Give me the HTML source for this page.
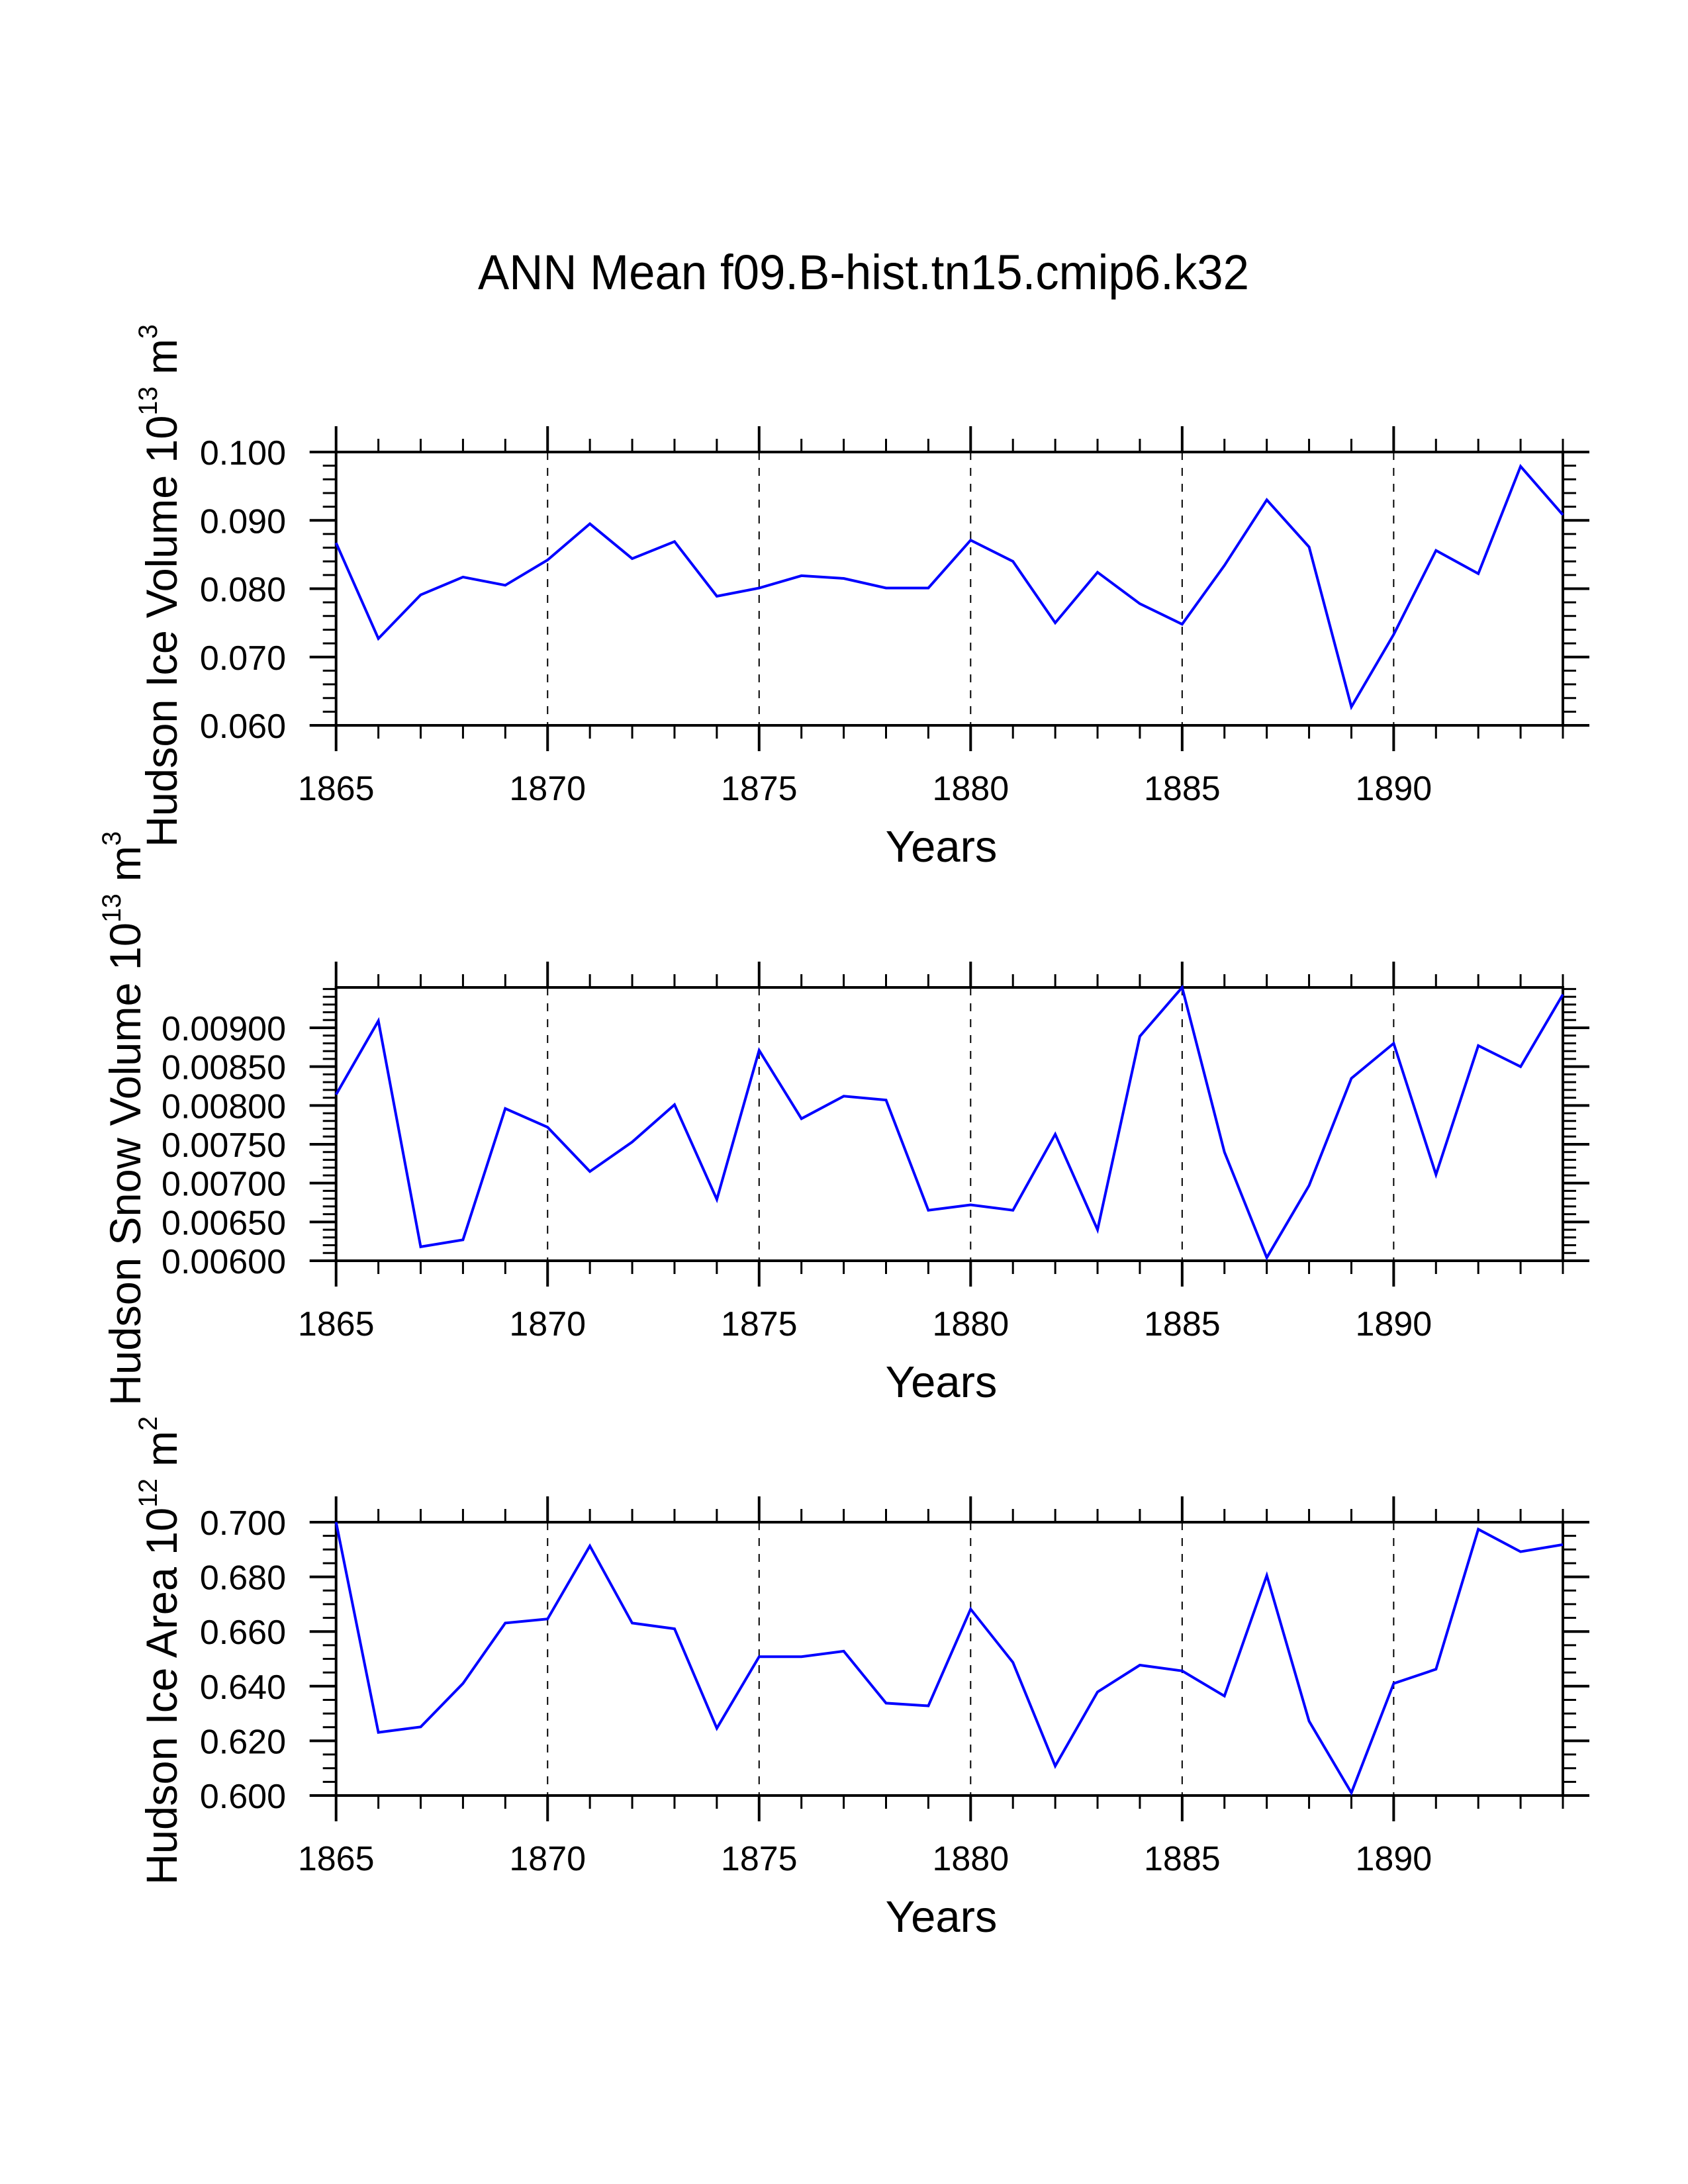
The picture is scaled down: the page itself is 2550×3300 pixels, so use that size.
<!DOCTYPE html>
<html><head><meta charset="utf-8"><style>
html,body{margin:0;padding:0;background:#fff}
svg{display:block}
text{font-family:"Liberation Sans",Arial,sans-serif;fill:#000}
</style></head><body>
<svg id="c" width="2550" height="3300" xmlns="http://www.w3.org/2000/svg">
<text x="722" y="437" font-size="74" textLength="1165" lengthAdjust="spacingAndGlyphs">ANN Mean f09.B-hist.tn15.cmip6.k32</text>
</svg>
<script>
const years = [1865,1866,1867,1868,1869,1870,1871,1872,1873,1874,1875,1876,1877,1878,1879,1880,1881,1882,1883,1884,1885,1886,1887,1888,1889,1890,1891,1892,1893,1894];
const iceVolume = [0.0867,0.0727,0.0791,0.0817,0.0805,0.0842,0.0895,0.0844,0.0869,0.0789,0.0801,0.0819,0.0815,0.0801,0.0801,0.0871,0.0840,0.0750,0.0824,0.0778,0.0748,0.0834,0.0930,0.0861,0.0627,0.0733,0.0856,0.0822,0.0979,0.0908];
const snowVolume = [0.00814,0.00909,0.00618,0.00627,0.00796,0.00772,0.00715,0.00753,0.00801,0.00679,0.00871,0.00783,0.00812,0.00807,0.00665,0.00672,0.00665,0.00763,0.00640,0.00889,0.00952,0.00740,0.00604,0.00697,0.00835,0.00880,0.00711,0.00877,0.00850,0.00943];
const iceArea = [0.700,0.6231,0.6251,0.641,0.6631,0.6646,0.6913,0.6631,0.661,0.6246,0.6508,0.6508,0.6528,0.6338,0.6328,0.6682,0.6487,0.6108,0.6379,0.6477,0.6456,0.6364,0.6805,0.6272,0.601,0.641,0.6462,0.6974,0.6892,0.6918];
const xTickLabels = ["1865","1870","1875","1880","1885","1890"];
const iceVolTicks = ["0.060","0.070","0.080","0.090","0.100"];
const snowVolTicks = ["0.00600","0.00650","0.00700","0.00750","0.00800","0.00850","0.00900"];
const iceAreaTicks = ["0.600","0.620","0.640","0.660","0.680","0.700"];

const NS="http://www.w3.org/2000/svg";
const svg=document.getElementById('c');
const L=507.7,R=2361,x0=1865,x1=1894;
const xs=v=>L+(v-x0)/(x1-x0)*(R-L);
function mk(tag,attrs,parent){const e=document.createElementNS(NS,tag);for(const k in attrs)e.setAttribute(k,attrs[k]);(parent||svg).appendChild(e);return e;}

const panels=[
 {top:683,ymin:0.060,ymax:0.100,minor:0.002,ticks:iceVolTicks,data:iceVolume,name:'ice-volume',title:'Hudson Ice Volume 10',sup:'3',tx:267,ty:885,tl:790},
 {top:1492,ymin:0.0060,ymax:0.00952,minor:0.0001,ticks:snowVolTicks,data:snowVolume,name:'snow-volume',title:'Hudson Snow Volume 10',sup:'3',tx:212,ty:1690,tl:868},
 {top:2300,ymin:0.600,ymax:0.700,minor:0.005,ticks:iceAreaTicks,data:iceArea,name:'ice-area',title:'Hudson Ice Area 10',sup:'2',tx:267,ty:2494,tl:708}
];
panels.forEach(p=>{
 const T=p.top,B=T+413;
 const ys=v=>B-(v-p.ymin)/(p.ymax-p.ymin)*(B-T);
 const g=mk('g',{});
 
 
 xTickLabels.forEach(t=>{const yr=+t;if(yr===x0)return;
  const l=mk('line',{x1:xs(yr),x2:xs(yr),y1:T,y2:B,stroke:'#000','stroke-width':2,'stroke-dasharray':'12 12'},g);
  
  });
 years.forEach(yr=>{const maj=xTickLabels.includes(String(yr));const len=maj?39:20;const x=xs(yr);
  mk('line',{x1:x,x2:x,y1:T,y2:T-len,stroke:'#000','stroke-width':maj?4:3},g);
  mk('line',{x1:x,x2:x,y1:B,y2:B+len,stroke:'#000','stroke-width':maj?4:3},g);});
 xTickLabels.forEach(t=>{const tx=mk('text',{x:xs(+t),y:B+113,'font-size':52,'text-anchor':'middle'},g);tx.textContent=t;
  
  });
 const n=Math.round((p.ymax-p.ymin)/p.minor);
 for(let i=0;i<=n;i++){const v=p.ymin+i*p.minor;if(v>p.ymax+1e-9)break;const y=ys(v);
  mk('line',{x1:L,x2:L-20,y1:y,y2:y,stroke:'#000','stroke-width':3},g);
  mk('line',{x1:R,x2:R+20,y1:y,y2:y,stroke:'#000','stroke-width':3},g);}
 p.ticks.forEach(t=>{const y=ys(+t);
  mk('line',{x1:L,x2:L-40,y1:y,y2:y,stroke:'#000','stroke-width':4},g);
  mk('line',{x1:R,x2:R+40,y1:y,y2:y,stroke:'#000','stroke-width':4},g);
  const tx=mk('text',{x:432,y:y+19,'font-size':52,'text-anchor':'end'},g);tx.textContent=t;
  
  });
 const fr=mk('rect',{x:L,y:T,width:R-L,height:B-T,fill:'none',stroke:'#000','stroke-width':4},g);
 
 
 const pts=p.data.map((v,i)=>xs(years[i]).toFixed(1)+','+ys(v).toFixed(1)).join(' ');
 const pl=mk('polyline',{points:pts,fill:'none',stroke:'#0000ff','stroke-width':4,'stroke-linejoin':'miter'},g);
 
 
 const xt=mk('text',{x:1422,y:B+206,'font-size':67,'text-anchor':'middle'},g);xt.textContent='Years';
 
 
 const yt=mk('text',{x:0,y:0,'font-size':66,'text-anchor':'middle',transform:`translate(${p.tx},${p.ty}) rotate(-90)`,textLength:p.tl,lengthAdjust:'spacingAndGlyphs'},g);
 
 
 const a=mk('tspan',{},yt);a.textContent=p.title;
 const s1=mk('tspan',{dy:-30,'font-size':40},yt);s1.textContent=p.name==='ice-area'?'12':'13';
 const b=mk('tspan',{dy:30},yt);b.textContent=' m';
 const s2=mk('tspan',{dy:-30,'font-size':40},yt);s2.textContent=p.sup;
});
</script>
</body></html>
